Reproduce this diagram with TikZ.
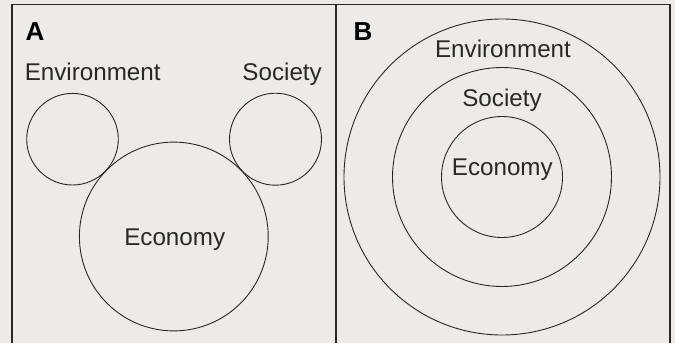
\documentclass[tikz,border=0pt]{standalone}
\usepackage{fontspec}
\setmainfont{Liberation Sans}
\usepackage{xcolor}
\usepackage{tikz}
\definecolor{paper}{RGB}{236,235,231}
\definecolor{ink}{RGB}{40,40,40}

\begin{document}
\begin{tikzpicture}[x=1pt,y=-1pt,
    frame/.style={draw=ink,line width=1.4pt},
    ring/.style={draw=ink,line width=0.9pt},
    word/.style={inner sep=0pt,anchor=base,text=ink,font=\fontsize{24.2}{28}\selectfont},
    panel/.style={inner sep=0pt,anchor=base west,text=black,font=\bfseries\fontsize{26}{30}\selectfont}]
    \fill[paper] (0,0) rectangle (675,343);
    \useasboundingbox (0,0) rectangle (675,343);
    \draw[frame] (12,343) -- (12,4.7) -- (670,4.7) -- (670,343);
    \draw[frame] (336,4.7) -- (336,343);

    \node[panel] (labA) at (25.5,40.5) {A};
    \node[panel] (labB) at (353.5,40.5) {B};

    \draw[ring] (72.5,139.2) circle[radius=45.8pt];
    \draw[ring] (275.5,139.2) circle[radius=46pt];
    \draw[ring] (173.8,236.5) circle[radius=94.4pt];
    \node[word,anchor=base west] (envA) at (24.6,80) {Environment};
    \node[word,anchor=base east] (socA) at (322,80.5) {Society};
    \node[word] (ecoA) at (174.7,245) {Economy};

    \draw[ring] (502,177) circle[radius=158pt];
    \draw[ring] (502,177) circle[radius=109.5pt];
    \draw[ring] (502,177) circle[radius=60.5pt];
    \node[word] (envB) at (503,57.7) {Environment};
    \node[word] (socB) at (502,106.7) {Society};
    \node[word] (ecoB) at (502.3,175) {Economy};
\end{tikzpicture}
\end{document}
